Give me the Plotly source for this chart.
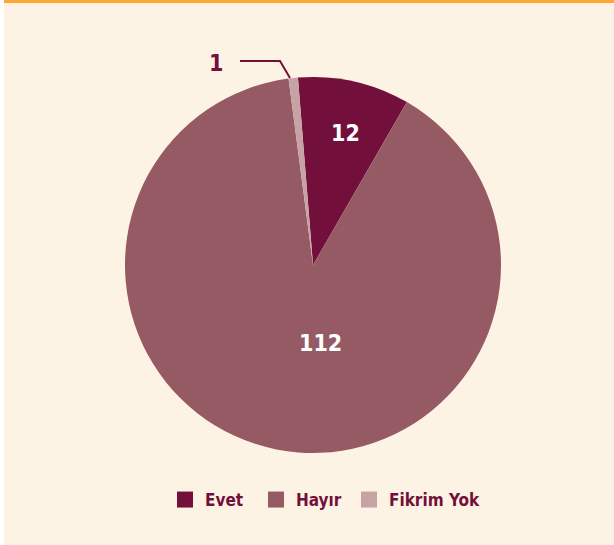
import plotly.graph_objects as go

# Veriler
labels = ["Evet", "Hayır", "Fikrim Yok"]
values = [12, 112, 1]
colors = ["#72103b", "#955a64", "#c8a3a5"]

W, H = 614, 545
ML, MR, MT, MB = 12, 0, 77, 92
PW, PH = W - ML - MR, H - MT - MB
FONT = "DejaVu Sans Condensed, DejaVu Sans, sans-serif"


def px_x(x):
    return (x - ML) / PW


def px_y(y):
    return (H - MB - y) / PH


fig = go.Figure(go.Pie(
    labels=labels,
    values=values,
    marker=dict(colors=colors, line=dict(width=0)),
    sort=False,
    direction="clockwise",
    rotation=-4.6,
    textinfo="none",
    hoverinfo="label+value",
    showlegend=False,
))

# lejant için kare işaretler (her biri kendi lejantında)
legend_names = ["legend", "legend2", "legend3"]
legend_x = [165, 256, 349]
for lab, col, lg in zip(labels, colors, legend_names):
    fig.add_trace(go.Scatter(x=[None], y=[None], mode="markers", name=lab, legend=lg,
                             marker=dict(symbol="square", size=18, color=col)))

# dilim etiketleri
label_pos = [(345, 132, "white"), (320, 342, "white"), (216, 62, "#72103b")]
for val, (lx, ly, fc) in zip(values, label_pos):
    fig.add_annotation(x=px_x(lx), y=px_y(ly + 1), xref="paper", yref="paper",
                       xanchor="center", yanchor="middle",
                       text=str(val), showarrow=False,
                       font=dict(family=FONT, size=23, color=fc, weight="bold"))

# küçük dilim için çizgi
fig.add_shape(type="path", xref="paper", yref="paper",
              path=f"M {px_x(240)} {px_y(61)} L {px_x(280)} {px_y(61)} L {px_x(290)} {px_y(78)}",
              line=dict(color="#72103b", width=2))

# çerçeve: üst turuncu şerit ve sol beyaz şerit
fig.add_shape(type="rect", xref="paper", yref="paper",
              x0=px_x(4), x1=px_x(W + 2), y0=px_y(3), y1=px_y(-2),
              fillcolor="#ffa533", line=dict(width=0))
fig.add_shape(type="rect", xref="paper", yref="paper",
              x0=px_x(-2), x1=px_x(4), y0=px_y(H + 2), y1=px_y(-2),
              fillcolor="white", line=dict(width=0))

legend_style = dict(orientation="h", xanchor="left", y=px_y(500), yanchor="middle",
                    font=dict(family=FONT, size=17, color="#72103b", weight="bold"),
                    itemwidth=30, bgcolor="rgba(0,0,0,0)")

fig.update_xaxes(visible=False)
fig.update_yaxes(visible=False)
fig.update_layout(
    width=W, height=H,
    margin=dict(l=ML, r=MR, t=MT, b=MB),
    paper_bgcolor="#fdf3e4",
    plot_bgcolor="#fdf3e4",
    showlegend=True,
    legend=dict(x=px_x(legend_x[0]), **legend_style),
    legend2=dict(x=px_x(legend_x[1]), **legend_style),
    legend3=dict(x=px_x(legend_x[2]), **legend_style),
)

fig.write_html("out.html", config={"displayModeBar": False},
               post_script="document.body.style.margin='0';")
